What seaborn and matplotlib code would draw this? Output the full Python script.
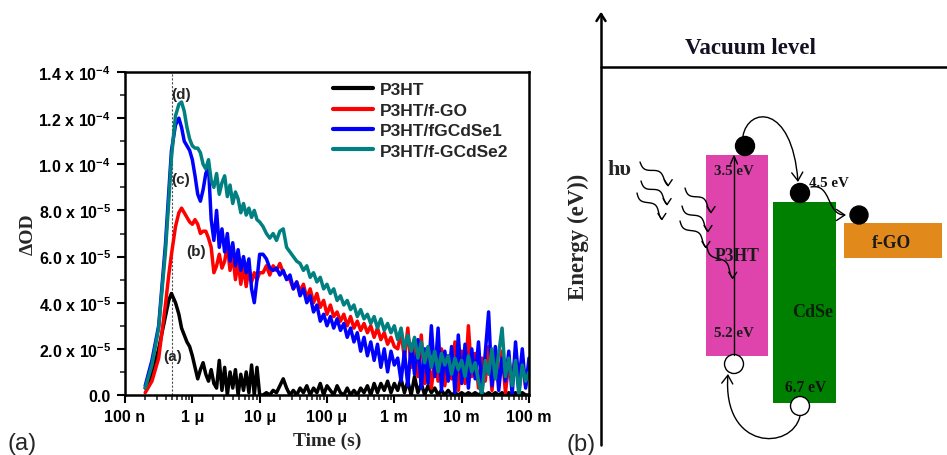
import numpy as np
import pandas as pd
import matplotlib
matplotlib.use("Agg")
import matplotlib.pyplot as plt
import seaborn as sns
from matplotlib.patches import Rectangle, Circle, FancyArrowPatch
from matplotlib.path import Path
from matplotlib.ticker import LogLocator, NullFormatter, MultipleLocator

# ---------------- data (panel a) ----------------
series_names = ["P3HT", "P3HT/f-GO", "P3HT/fGCdSe1", "P3HT/f-GCdSe2"]
series_colors = ["#000000", "#ff0000", "#0000ff", "#008080"]

# log10 of time in seconds
log10_time = [
    -6.70, -6.60, -6.50, -6.40, -6.35, -6.31, -6.25, -6.20, -6.16,
    -6.12, -6.08, -6.04, -6.00, -5.96, -5.92, -5.88, -5.84, -5.80, -5.76,
    -5.72, -5.68, -5.64, -5.60, -5.56, -5.52, -5.48, -5.44, -5.40, -5.36,
    -5.32, -5.28, -5.24, -5.20, -5.16, -5.12, -5.08, -5.04, -5.00,
    -4.95, -4.90, -4.85, -4.80, -4.75, -4.70, -4.65, -4.60, -4.55, -4.50,
    -4.45, -4.40, -4.35, -4.30, -4.25, -4.20, -4.15, -4.10, -4.05, -4.00,
    -3.95, -3.90, -3.85, -3.80, -3.75, -3.70, -3.65, -3.60, -3.55, -3.50,
    -3.45, -3.40, -3.35, -3.30, -3.25, -3.20, -3.15, -3.10, -3.05, -3.00,
    -2.95, -2.90, -2.85, -2.80, -2.75, -2.70, -2.65, -2.60, -2.55, -2.50,
    -2.45, -2.40, -2.35, -2.30, -2.25, -2.20, -2.15, -2.10, -2.05, -2.00,
    -1.95, -1.90, -1.85, -1.80, -1.75, -1.70, -1.65, -1.60, -1.55, -1.50,
    -1.45, -1.40, -1.35, -1.30, -1.25, -1.20, -1.15, -1.10, -1.05, -1.00,
]

# Delta OD in units of 1e-5
p3ht = [
    0.3, 0.9, 2.0, 3.4, 4.1, 4.4, 4.0, 3.5, 2.9,
    2.6, 2.3, 2.1, 1.7, 1.2, 0.7, 1.1, 1.4, 0.9, 0.6,
    1.1, 0.5, 0.3, 1.5, 0.2, 1.2, 0.0, 1.0, 0.3, 1.1,
    0.0, 0.9, 0.2, 1.0, 0.1, 1.3, 0.0, 1.2, 0.0,
    0.0, 0.1, 0.0, 0.2, 0.1, 0.4, 0.7, 0.3, 0.0, 0.2,
    0.0, 0.3, 0.1, 0.4, 0.0, 0.3, 0.1, 0.5, 0.0, 0.4,
    0.2, 0.0, 0.4, 0.1, 0.0, 0.3, 0.0, 0.2, 0.0, 0.3,
    0.1, 0.4, 0.0, 0.5, 0.1, 0.5, 0.2, 0.6, 0.1, 0.5,
    0.2, 0.7, 0.1, 0.6, 0.0, 0.8, 0.1, 0.5, 0.0, 0.4,
    0.1, 0.3, 0.0, 0.2, 0.0, 0.2, 0.0, 0.1, 0.0, 0.1,
    0.0, 0.1, 0.0, 0.1, 0.0, 0.1, 0.0, 0.1, 0.0, 0.1,
    0.0, 0.1, 0.0, 0.1, 0.0, 0.1, 0.0, 0.1, 0.0, 0.0,
]
p3ht_fgo = [
    0.1, 0.6, 1.6, 3.9, 5.2, 6.1, 7.3, 7.9, 8.1,
    7.9, 7.7, 7.5, 7.4, 7.6, 7.4, 7.0, 7.1, 7.1, 6.8,
    6.4, 5.3, 5.6, 6.1, 5.5, 5.8, 6.5, 5.4, 6.1, 5.0,
    5.8, 4.8, 5.6, 4.7, 5.5, 4.9, 5.3, 5.0, 5.3,
    5.3, 5.6, 5.2, 5.6, 5.4, 5.7, 5.3, 5.1, 5.0, 4.6,
    4.9, 4.5, 4.8, 4.2, 4.6, 4.0, 4.4, 3.8, 4.1, 3.5,
    3.9, 3.4, 3.6, 3.2, 3.5, 3.0, 3.4, 2.9, 3.2, 2.8,
    3.1, 2.7, 3.0, 2.5, 2.9, 2.4, 2.7, 2.2, 2.5, 2.1,
    2.0, 2.7, 1.6, 2.9, 1.2, 2.2, 0.8, 2.6, 0.5, 1.8,
    0.3, 1.5, 0.6, 2.0, 0.4, 1.7, 0.7, 2.3, 0.2, 1.9,
    0.5, 3.0, 0.8, 1.8, 0.3, 1.6, 0.6, 2.1, 0.2, 1.7,
    0.5, 1.9, 0.1, 1.4, 0.6, 1.8, 0.2, 1.5, 0.4, 1.2,
]
p3ht_fgcdse1 = [
    0.4, 1.5, 3.0, 6.5, 8.8, 10.6, 11.7, 12.0, 11.6,
    11.0, 10.8, 10.6, 10.2, 9.5, 8.7, 8.4, 8.9, 9.6, 9.9,
    7.6, 6.7, 8.0, 6.4, 7.2, 6.2, 7.0, 5.8, 6.6, 5.6,
    6.3, 5.4, 6.0, 5.3, 5.9, 4.6, 4.0, 5.0, 6.1,
    6.1, 5.9, 5.5, 5.4, 5.5, 5.2, 5.4, 5.0, 5.2, 4.6,
    4.9, 4.3, 4.6, 4.0, 4.3, 3.6, 3.9, 3.2, 3.5, 3.0,
    3.4, 2.9, 3.3, 2.8, 3.1, 2.5, 2.9, 2.3, 2.7, 1.9,
    2.5, 1.7, 2.3, 1.5, 2.2, 1.2, 2.0, 1.0, 1.9, 1.3,
    1.6, 0.6, 1.9, 0.4, 2.2, 0.9, 2.4, 0.3, 2.0, 0.5,
    3.0, 0.8, 2.9, 0.2, 1.9, 0.6, 2.1, 0.1, 2.6, 0.5,
    2.2, 0.3, 2.0, 0.7, 2.3, 0.1, 1.8, 3.6, 0.4, 2.1,
    0.2, 1.6, 0.6, 1.9, 0.0, 2.3, 0.5, 2.0, 0.3, 1.6,
]
p3ht_fgcdse2 = [
    0.3, 1.3, 2.9, 6.2, 8.4, 10.3, 12.1, 12.6, 12.7,
    12.3, 11.6, 11.1, 10.8, 10.7, 10.7, 10.5, 10.0, 9.8, 10.2,
    9.3, 9.0, 9.6, 8.7, 9.2, 9.5, 8.6, 9.1, 8.3, 8.8,
    8.5, 7.9, 8.3, 7.8, 8.1, 7.7, 8.0, 7.6, 7.5,
    7.3, 7.0, 6.8, 7.0, 6.7, 7.1, 7.2, 6.4, 6.2, 6.0,
    5.8, 5.7, 5.4, 5.6, 5.1, 5.3, 4.9, 5.1, 4.6, 4.8,
    4.4, 4.6, 4.1, 4.3, 3.9, 4.1, 3.7, 3.9, 3.4, 3.7,
    3.3, 3.5, 3.1, 3.4, 2.9, 3.3, 2.8, 3.1, 2.7, 3.0,
    2.4, 2.9, 2.0, 2.6, 1.9, 2.5, 1.6, 2.3, 1.4, 2.1,
    1.2, 1.9, 1.0, 1.8, 1.3, 1.7, 0.9, 1.6, 1.1, 1.5,
    0.8, 1.7, 1.0, 1.4, 0.6, 0.0, 1.5, 0.9, 2.0, 0.7,
    1.8, 2.9, 0.8, 1.6, 0.4, 1.5, 0.0, 1.3, 0.6, 1.0,
]

xtick_values = [1e-7, 1e-6, 1e-5, 1e-4, 1e-3, 1e-2, 1e-1]
xtick_labels = ["100 n", "1 \u03bc", "10 \u03bc", "100 \u03bc", "1 m", "10 m", "100 m"]
ytick_values = [0.0, 2e-5, 4e-5, 6e-5, 8e-5, 1.0e-4, 1.2e-4, 1.4e-4]
ytick_labels = ["0.0", "2.0 x 10$^{-5}$", "4.0 x 10$^{-5}$", "6.0 x 10$^{-5}$",
                "8.0 x 10$^{-5}$", "1.0 x 10$^{-4}$", "1.2 x 10$^{-4}$", "1.4 x 10$^{-4}$"]
excitation_time = 5e-7
peak_labels = ["(a)", "(b)", "(c)", "(d)"]

# ---------------- data (panel b) ----------------
levels_text = ["3.5 eV", "5.2 eV", "4.5 eV", "6.7 eV"]

# ---------------- style ----------------
sns.set_theme(style="ticks")
plt.rcParams["font.family"] = ["Liberation Sans", "DejaVu Sans"]
plt.rcParams["mathtext.fontset"] = "custom"
plt.rcParams["mathtext.rm"] = "Liberation Sans"
plt.rcParams["mathtext.bf"] = "Liberation Sans:bold"
plt.rcParams["mathtext.default"] = "bf"

W, H = 947, 456
fig = plt.figure(figsize=(W / 100, H / 100), dpi=100)

# panel a axes: left 125, right 529, top 73, bottom 396 (pixels)
ax = fig.add_axes([125 / W, (H - 396) / H, (529 - 125) / W, (396 - 73) / H])

frames = []
for name, vals in zip(series_names, [p3ht, p3ht_fgo, p3ht_fgcdse1, p3ht_fgcdse2]):
    frames.append(pd.DataFrame({
        "time": 10 ** np.array(log10_time),
        "dOD": np.array(vals) * 1e-5,
        "sample": name,
    }))
df = pd.concat(frames, ignore_index=True)

ax.axvline(excitation_time, color="0.3", lw=0.8, ls=(0, (2, 1.5)), zorder=1)
sns.lineplot(data=df, x="time", y="dOD", hue="sample", hue_order=series_names,
             palette=dict(zip(series_names, series_colors)), estimator=None,
             sort=False, lw=2.5, ax=ax, legend="full")
ax.set_xscale("log")
ax.set_xlim(1e-7, 1e-1)
ax.set_ylim(0, 1.4e-4)

ax.set_xticks(xtick_values)
ax.set_xticklabels(xtick_labels, fontweight="bold", fontsize=11.5)
ax.xaxis.set_minor_locator(LogLocator(base=10, subs=np.arange(2, 10)))
ax.xaxis.set_minor_formatter(NullFormatter())
ax.set_yticks(ytick_values)
ax.set_yticklabels(ytick_labels, fontweight="bold", fontsize=11.5)
ax.yaxis.set_minor_locator(MultipleLocator(1e-5))
ax.tick_params(which="major", direction="out", length=6, width=1.5, pad=4, colors="black")
ax.tick_params(which="minor", direction="out", length=3.5, width=1.2)
ax.tick_params(top=False, right=False, which="both")
for sp in ax.spines.values():
    sp.set_linewidth(1.8)
    sp.set_color("black")
    sp.set_visible(True)

ax.set_xlabel("Time (s)", fontfamily="Liberation Serif", fontweight="bold", fontsize=14)
ax.set_ylabel("\u0394OD", fontfamily="Liberation Serif", fontweight="bold", fontsize=14)
ax.xaxis.set_label_coords(0.5, -0.115)
ax.yaxis.set_label_coords(-0.218, 0.5)

handles, labels = ax.get_legend_handles_labels()
leg = ax.legend(handles, labels, loc="upper left", bbox_to_anchor=(0.515, 0.968),
                frameon=False, prop={"family": "Liberation Sans", "weight": "bold", "size": 12.5},
                handlelength=2.3, handletextpad=0.4, labelspacing=0.3,
                borderpad=0, borderaxespad=0)
for ln in leg.get_lines():
    ln.set_linewidth(3)

peak_pos = [(10 ** -6.30, 1.69e-5), (10 ** -5.95, 6.24e-5),
            (10 ** -6.18, 9.36e-5), (10 ** -6.16, 13.05e-5)]
for lab, (px, py) in zip(peak_labels, peak_pos):
    ax.text(px, py, lab, ha="center", va="center", fontsize=11, fontweight="bold")

fig.text(22 / W, 1 - 444 / H, "(a)", ha="center", va="center", fontsize=17)

# ---------------- panel b: energy diagram ----------------
bx = fig.add_axes([560 / W, 0, (W - 560) / W, 1])
bx.set_xlim(560, W)
bx.set_ylim(H, 0)
bx.axis("off")

k = "black"
# energy axis with arrow
bx.plot([601, 601], [446, 15], color=k, lw=1.8)
bx.plot([596.5, 601, 605.5], [22, 15, 22], color=k, lw=1.8)
# vacuum level
bx.plot([601, 947], [67.5, 67.5], color=k, lw=1.8)
bx.text(750, 48, "Vacuum level", ha="center", va="center", fontsize=16.5,
        fontfamily="Liberation Serif", fontweight="bold", color="#111122")
bx.text(578, 237, "Energy (eV))", ha="center", va="center", rotation=90, fontsize=16.5,
        fontfamily="Liberation Serif", fontweight="bold")

# boxes
bx.add_patch(Rectangle((706, 156), 62, 201, facecolor="#de44ac", edgecolor="none"))
bx.add_patch(Rectangle((773, 203), 63, 201, facecolor="#008000", edgecolor="none"))
bx.add_patch(Rectangle((844, 224), 98, 35, facecolor="#e2891c", edgecolor="none"))

serif = dict(fontfamily="Liberation Serif", fontweight="bold")
bx.text(734, 172, levels_text[0], ha="center", va="center", fontsize=10.8, color="#1a1a1a", **serif)
bx.text(734, 334, levels_text[1], ha="center", va="center", fontsize=10.8, color="#1a1a1a", **serif)
bx.text(829, 184, levels_text[2], ha="center", va="center", fontsize=10.8, color="#111111", **serif)
bx.text(806, 388, levels_text[3], ha="center", va="center", fontsize=11.2, color="#111111", **serif)
bx.text(737, 257, "P3HT", ha="center", va="center", fontsize=12.7, color="#1a1a1a", **serif)
bx.text(813, 313, "CdSe", ha="center", va="center", fontsize=13, color="#0a200a", **serif)
bx.text(891, 244, "f-GO", ha="center", va="center", fontsize=12.7, color="#1a1a1a", **serif)
bx.text(619, 170, "h\u03c5", ha="center", va="center", fontsize=16, **serif)

# excitation arrow inside P3HT
bx.plot([734, 734], [356, 158], color=k, lw=1.0)
bx.plot([730.5, 734, 737.5], [165, 157, 165], color=k, lw=1.0)

# electrons / holes
for (cx, cy, r) in [(745, 147, 9.5), (800, 194, 9.5), (859, 216, 9)]:
    bx.add_patch(Circle((cx, cy), r, facecolor="black", edgecolor="black"))
for (cx, cy) in [(734, 365), (800, 407)]:
    bx.add_patch(Circle((cx, cy), 9.5, facecolor="white", edgecolor="black", lw=1.0))

# transfer arrows
def curved(pts, style):
    p = Path(pts, [Path.MOVETO, Path.CURVE4, Path.CURVE4, Path.CURVE4])
    bx.add_patch(FancyArrowPatch(path=p, arrowstyle=style, color=k, lw=1.0,
                                 mutation_scale=1))

curved([(743, 137), (748, 108), (792, 104), (798, 183)], "->,head_length=6,head_width=4")
curved([(811, 188), (832, 184), (826, 216), (846, 216)], "->,head_length=6,head_width=4")
curved([(800, 417), (792, 452), (722, 452), (728, 375)], "->,head_length=6,head_width=4")

# photon squiggles (decoration)
squiggles = [((640, 163), (670, 184)), ((641, 182), (669, 203)), ((637, 194), (664, 218)),
             ((685, 189), (713, 211)), ((682, 207), (710, 230)), ((680, 222), (708, 246)),
             ((707, 248), (735, 277))]
t = np.linspace(0, 1, 80)
for (x0, y0), (x1, y1) in squiggles:
    dx, dy = x1 - x0, y1 - y0
    L = np.hypot(dx, dy)
    ux, uy = dx / L, dy / L
    nx, ny = -uy, ux
    w = 3.2 * np.sin(2 * np.pi * 1.25 * t)
    bx.plot(x0 + dx * t + nx * w, y0 + dy * t + ny * w, color=k, lw=1.0)
    ex, ey = x0 + dx + nx * w[-1], y0 + dy + ny * w[-1]
    bx.plot([ex - 4, ex, ex + 4], [ey - 6, ey, ey - 6], color=k, lw=1.0)

fig.text(581 / W, 1 - 445 / H, "(b)", ha="center", va="center", fontsize=17)

fig.savefig("out.png", dpi=100)
